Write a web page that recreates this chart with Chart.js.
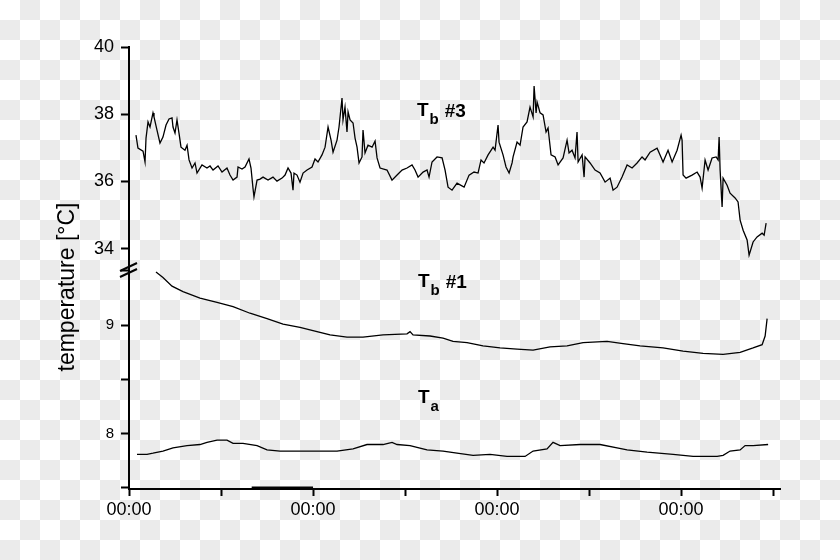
<!DOCTYPE html>
<html>
<head>
<meta charset="utf-8">
<script src="https://cdn.jsdelivr.net/npm/chart.js@4"></script>
<style>
  html, body { margin: 0; padding: 0; }
  body {
    width: 840px; height: 560px; overflow: hidden;
    background: repeating-conic-gradient(#ebebeb 0 25%, #ffffff 0 50%) 0 0 / 40px 40px;
  }
  #wrap { position: relative; width: 840px; height: 560px; }
</style>
</head>
<body>
<div id="wrap"><canvas id="chart" width="840" height="560"></canvas></div>
<script>
// time in hours from the first midnight, temperatures in °C
const tb3Hours = [0.91, 1.17, 1.83, 2.09, 2.22, 2.48, 2.74, 3.13, 3.26, 3.65, 4.04, 4.43, 4.83, 5.22, 5.61, 5.74, 6.00, 6.26, 6.52, 6.78,
  7.30, 7.57, 7.83, 8.22, 8.61, 8.87, 9.52, 10.17, 10.57, 10.96, 11.61, 12.13, 12.78, 13.17, 13.57, 14.09, 14.22, 14.74, 15.13, 15.65,
  15.91, 16.17, 16.30, 16.70, 17.09, 17.48, 18.13, 18.78, 19.30, 19.96, 20.35, 20.74, 21.13, 21.39, 21.52, 21.91, 22.30, 22.70, 23.22, 23.87,
  24.26, 24.65, 25.17, 25.57, 25.96, 26.35, 26.61, 27.13, 27.39, 27.78, 27.91, 28.17, 28.43, 28.57, 28.83, 29.22, 29.48, 29.74, 30.00, 30.39,
  30.52, 30.78, 31.17, 31.70, 32.09, 32.35, 32.74, 33.65, 34.30, 34.96, 35.61, 36.26, 36.91, 37.30, 37.70, 38.35, 38.87, 39.13, 39.52, 40.17,
  40.83, 41.22, 41.61, 42.13, 42.78, 43.70, 44.35, 45.00, 45.52, 45.91, 46.30, 46.83, 47.48, 47.74, 48.13, 48.26, 48.78, 49.17, 49.57, 49.96,
  50.09, 50.61, 51.00, 51.39, 51.91, 52.30, 52.70, 52.83, 53.09, 53.22, 53.61, 54.00, 54.39, 54.65, 55.04, 55.57, 55.96, 56.61, 57.13, 57.39,
  57.78, 58.17, 58.43, 58.57, 59.09, 59.35, 59.48, 60.13, 60.78, 61.43, 62.09, 62.74, 63.13, 63.65, 64.30, 64.96, 65.61, 66.26, 66.91, 67.30,
  67.96, 68.87, 69.26, 69.65, 70.30, 70.83, 71.48, 72.00, 72.13, 72.26, 72.65, 73.43, 74.09, 74.48, 74.74, 75.13, 75.52, 76.04, 76.57, 76.83,
  76.96, 77.09, 77.35, 77.48, 78.00, 78.39, 79.04, 79.43, 79.70, 80.09, 80.61, 80.87, 81.39, 81.91, 82.57, 82.83, 83.09];
const tb3Temp = [37.38, 36.99, 36.90, 36.58, 37.29, 37.77, 37.62, 38.04, 37.92, 37.53, 37.14, 37.32, 37.68, 37.86, 37.89, 37.62, 37.44, 37.83, 37.44, 37.02,
  36.93, 37.08, 36.64, 36.40, 36.55, 36.25, 36.49, 36.40, 36.46, 36.34, 36.46, 36.28, 36.40, 36.19, 36.04, 36.13, 36.43, 36.37, 36.43, 36.67,
  36.40, 35.80, 35.54, 36.04, 36.07, 36.13, 36.04, 36.13, 36.01, 36.10, 36.19, 36.40, 36.25, 35.74, 36.25, 36.19, 35.98, 36.25, 36.34, 36.43,
  36.67, 36.58, 36.79, 37.02, 37.62, 37.23, 36.87, 37.23, 37.62, 38.48, 37.83, 38.21, 37.47, 38.07, 37.83, 37.74, 37.29, 37.02, 36.55, 36.73,
  37.53, 36.85, 37.08, 37.02, 37.20, 36.70, 36.40, 36.34, 36.04, 36.19, 36.34, 36.40, 36.49, 36.34, 36.13, 36.28, 36.34, 36.13, 36.58, 36.73,
  36.70, 36.34, 35.83, 35.74, 35.95, 35.83, 36.19, 36.28, 36.25, 36.64, 36.55, 36.79, 37.02, 36.93, 37.68, 37.17, 36.79, 36.43, 36.25, 36.55,
  36.73, 37.17, 37.08, 37.62, 37.77, 38.21, 37.92, 38.84, 38.04, 38.36, 38.04, 37.98, 37.47, 37.59, 36.79, 36.73, 36.49, 36.70, 37.23, 36.85,
  36.93, 36.70, 37.47, 36.58, 36.79, 36.13, 36.73, 36.55, 36.34, 36.25, 35.98, 36.10, 35.74, 35.83, 36.13, 36.49, 36.40, 36.55, 36.73, 36.64,
  36.87, 36.99, 36.79, 36.58, 36.93, 36.58, 36.93, 37.38, 37.23, 36.19, 36.10, 36.19, 36.28, 36.13, 35.80, 36.64, 36.34, 36.70, 36.73, 36.64,
  37.32, 36.34, 35.24, 36.10, 35.89, 35.65, 35.51, 35.39, 34.85, 34.55, 34.26, 33.81, 34.20, 34.35, 34.46, 34.40, 34.76];

// short trace sitting on the axis at the very start
const tb3LeadHours = [0, 0];
const tb3LeadTemp = [38.48, 37.98];

const tb1Hours = [3.52, 4.43, 5.61, 7.04, 9.26, 11.48, 13.57, 15.78, 18.00, 20.09, 22.30, 24.52, 26.22, 28.43, 30.52, 33.13, 36.26, 36.65, 37.04, 39.26,
  40.96, 42.26, 44.09, 46.17, 48.39, 50.61, 52.70, 54.91, 57.13, 59.22, 62.35, 64.43, 66.65, 69.65, 72.26, 74.87, 77.48, 79.70, 81.39, 82.57,
  82.96, 83.22];
const tb1Temp = [9.49, 9.44, 9.36, 9.31, 9.25, 9.21, 9.17, 9.11, 9.06, 9.01, 8.98, 8.94, 8.91, 8.89, 8.89, 8.91, 8.92, 8.94, 8.91, 8.90,
  8.88, 8.85, 8.84, 8.81, 8.79, 8.78, 8.77, 8.80, 8.81, 8.84, 8.85, 8.83, 8.81, 8.79, 8.76, 8.74, 8.73, 8.75, 8.79, 8.82,
  8.90, 9.06];

const taHours = [1.04, 1.70, 2.35, 3.13, 4.43, 5.74, 7.57, 9.26, 10.17, 11.48, 12.78, 13.57, 14.87, 16.70, 18.00, 19.70, 22.30, 24.91, 27.13, 29.22,
  31.04, 33.13, 34.30, 34.96, 36.65, 38.87, 40.96, 42.78, 44.87, 47.09, 49.30, 51.65, 52.70, 54.52, 55.30, 56.22, 58.83, 61.43, 63.65, 64.96,
  67.57, 70.96, 73.57, 76.70, 77.48, 78.39, 79.70, 80.35, 81.39, 83.35];
const taTemp = [7.81, 7.81, 7.81, 7.82, 7.84, 7.87, 7.89, 7.90, 7.92, 7.94, 7.94, 7.91, 7.91, 7.89, 7.85, 7.84, 7.84, 7.84, 7.84, 7.86,
  7.90, 7.90, 7.92, 7.90, 7.89, 7.85, 7.84, 7.82, 7.80, 7.81, 7.79, 7.79, 7.84, 7.86, 7.92, 7.89, 7.90, 7.90, 7.87, 7.85,
  7.83, 7.81, 7.79, 7.79, 7.80, 7.84, 7.85, 7.89, 7.89, 7.90];

// thick mark lying on the time axis
const axisMarkHours = [16.0, 24.0];
const axisMarkTemp = [7.5, 7.5];

const xTickLabel = '00:00';
const yTitle = 'temperature [°C]';
const seriesLabels = [
  { main: 'T', sub: 'b', tail: '#3' },
  { main: 'T', sub: 'b', tail: '#1' },
  { main: 'T', sub: 'a', tail: '' }
];

function toPoints(xs, ys) {
  return xs.map((x, i) => ({ x: x, y: ys[i] }));
}

const FONT = "'Liberation Sans', Arial, sans-serif";

// axis title, axis break and series names
const decorations = {
  id: 'decorations',
  afterDraw(chart) {
    const ctx = chart.ctx;
    ctx.save();
    ctx.fillStyle = '#000';

    ctx.save();
    ctx.translate(68, 287);
    ctx.rotate(-Math.PI / 2);
    ctx.font = '23px ' + FONT;
    ctx.textAlign = 'center';
    ctx.textBaseline = 'middle';
    ctx.fillText(yTitle, 0, 0);
    ctx.restore();

    // break mark on the y axis
    const ax = chart.chartArea.left;
    ctx.strokeStyle = '#000';
    ctx.lineWidth = 2;
    ctx.beginPath();
    ctx.moveTo(ax - 9, 271); ctx.lineTo(ax + 8, 263);
    ctx.moveTo(ax - 9, 277); ctx.lineTo(ax + 8, 269);
    ctx.stroke();

    const spots = [[417, 116], [418, 287], [418, 403]];
    ctx.textAlign = 'left';
    ctx.textBaseline = 'alphabetic';
    seriesLabels.forEach((lab, i) => {
      const [x, y] = spots[i];
      ctx.font = 'bold 19px ' + FONT;
      ctx.fillText(lab.main, x, y);
      const w = ctx.measureText(lab.main).width;
      ctx.font = 'bold 15px ' + FONT;
      ctx.fillText(lab.sub, x + w + 1, y + 8);
      const ws = ctx.measureText(lab.sub).width;
      if (lab.tail) {
        ctx.font = 'bold 19px ' + FONT;
        ctx.fillText(lab.tail, x + w + ws + 7, y + 1);
      }
    });
    ctx.restore();
  }
};

const lineStyle = { borderColor: '#000', borderWidth: 1.3, pointRadius: 0, tension: 0, fill: false };

new Chart(document.getElementById('chart'), {
  type: 'line',
  data: {
    datasets: [
      Object.assign({ label: 'Tb #3', data: toPoints(tb3Hours, tb3Temp), yAxisID: 'yTop' }, lineStyle),
      Object.assign({ label: 'Tb #3 lead', data: toPoints(tb3LeadHours, tb3LeadTemp), yAxisID: 'yTop' }, lineStyle, { borderWidth: 2, clip: false }),
      Object.assign({ label: 'Tb #1', data: toPoints(tb1Hours, tb1Temp), yAxisID: 'yLow' }, lineStyle),
      Object.assign({ label: 'Ta', data: toPoints(taHours, taTemp), yAxisID: 'yLow' }, lineStyle),
      Object.assign({ label: 'mark', data: toPoints(axisMarkHours, axisMarkTemp), yAxisID: 'yLow' }, lineStyle, { borderWidth: 3, clip: false })
    ]
  },
  options: {
    responsive: false,
    animation: false,
    layout: { padding: { left: 0, top: 47, right: 60, bottom: 0 } },
    plugins: { legend: { display: false }, tooltip: { enabled: false } },
    scales: {
      x: {
        type: 'linear',
        position: 'bottom',
        min: 0,
        max: 84.9,
        afterFit: s => { s.height = 71; },
        border: { color: '#000', width: 2 },
        grid: { drawOnChartArea: false, drawTicks: true, tickLength: 7, tickColor: '#000', tickWidth: 2 },
        ticks: {
          stepSize: 12,
          includeBounds: false,
          maxRotation: 0,
          autoSkip: false,
          padding: 3,
          color: '#000',
          font: { family: FONT, size: 18 },
          callback: v => (v % 24 === 0 ? xTickLabel : '')
        }
      },
      // the lower segment is declared first so that it lands at the bottom of the stack
      yLow: {
        type: 'linear',
        position: 'left',
        stack: 'temp',
        stackWeight: 223,
        min: 7.49,
        max: 9.55,
        afterFit: s => { s.width = 129; },
        border: { color: '#000', width: 2 },
        grid: { drawOnChartArea: false, drawTicks: true, tickLength: 8, tickColor: '#000', tickWidth: 2 },
        ticks: {
          stepSize: 0.5,
          includeBounds: false,
          padding: 7,
          color: '#000',
          font: { family: FONT, size: 15 },
          callback: v => (Number.isInteger(v) ? String(v) : '')
        }
      },
      yTop: {
        type: 'linear',
        position: 'left',
        stack: 'temp',
        stackWeight: 218,
        min: 33.5,
        max: 40,
        afterFit: s => { s.width = 129; },
        border: { color: '#000', width: 2 },
        grid: { drawOnChartArea: false, drawTicks: true, tickLength: 8, tickColor: '#000', tickWidth: 2 },
        ticks: {
          stepSize: 1,
          includeBounds: false,
          padding: 7,
          color: '#000',
          font: { family: FONT, size: 18 },
          callback: v => (v % 2 === 0 ? String(v) : '')
        }
      }
    }
  },
  plugins: [decorations]
});
</script>
</body>
</html>
